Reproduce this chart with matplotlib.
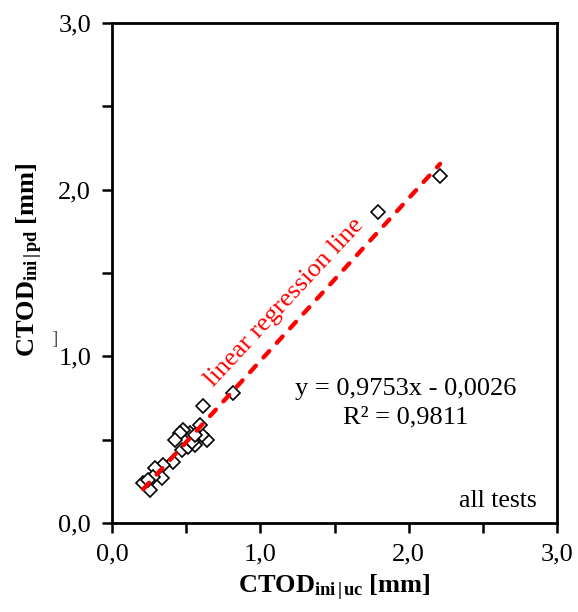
import numpy as np
import matplotlib
matplotlib.use('Agg')
import matplotlib.pyplot as plt
from matplotlib.ticker import MultipleLocator, FixedLocator, FixedFormatter

plt.rcParams['font.family'] = ['Liberation Serif', 'DejaVu Serif']
plt.rcParams['mathtext.fontset'] = 'custom'
plt.rcParams['mathtext.rm'] = 'Liberation Serif'
plt.rcParams['mathtext.it'] = 'Liberation Serif:italic'
plt.rcParams['mathtext.bf'] = 'Liberation Serif:bold'

# CTOD values (mm)
ctod_uc = [2.212, 1.796, 0.818, 0.616, 0.639, 0.605, 0.526, 0.481, 0.459, 0.425,
           0.470, 0.515, 0.560, 0.537, 0.593, 0.560, 0.413, 0.346, 0.290, 0.335,
           0.278, 0.211, 0.256, 0.245]
ctod_pd = [2.082, 1.867, 0.778, 0.702, 0.498, 0.528, 0.538, 0.558, 0.538, 0.498,
           0.438, 0.458, 0.468, 0.488, 0.588, 0.528, 0.368, 0.348, 0.328, 0.268,
           0.278, 0.238, 0.198, 0.258]

# regression from the chart
slope = 0.9753
intercept = -0.0026
r2 = 0.9811

tick_vals = [0, 1, 2, 3]
tick_labels = ['0,0', '1,0', '2,0', '3,0']

fig = plt.figure(figsize=(5.78, 6.12), dpi=100)
ax = fig.add_axes([112/578, 1-523/612, 445/578, 500/612])

ax.plot(ctod_uc, ctod_pd, linestyle='none', marker='D', ms=6.8,
        markerfacecolor='white', markeredgecolor='black', mew=1.2, zorder=2)

xl = np.array([min(ctod_uc), max(ctod_uc)])
ax.plot(xl, slope*xl + intercept, color='#ff0000', lw=3.1, ls=(0, (2, 2.6)),
        dash_capstyle='round', zorder=3)

ax.text(0.68, 0.81, 'linear regression line', color='#ff0000', fontsize=19,
        rotation=47, rotation_mode='anchor', ha='left', va='baseline')

eq = f'y = {slope:.4f}x - {abs(intercept):.4f}'.replace('.', ',')
ax.text(1.98, 0.768, eq, fontsize=19, ha='center', va='baseline')
ax.text(1.98, 0.600, f'R² = {r2:.4f}'.replace('.', ','), fontsize=19,
        ha='center', va='baseline')
ax.text(2.866, 0.096, 'all tests', fontsize=18.5, ha='right', va='baseline')

ax.set_xlim(0, 3)
ax.set_ylim(0, 3)
for a in (ax.xaxis, ax.yaxis):
    a.set_major_locator(FixedLocator(tick_vals))
    a.set_major_formatter(FixedFormatter(tick_labels))
    a.set_minor_locator(MultipleLocator(0.5))
ax.tick_params(which='both', direction='out', length=7, width=1.8,
               labelsize=19, pad=8)

for s in ax.spines.values():
    s.set_linewidth(2)
    s.set_color('black')

ax.set_xlabel(r'$\mathbf{CTOD_{ini\,|\,uc}\ [mm]}$', fontsize=19)
ax.set_ylabel(r'$\mathbf{CTOD_{ini\,|\,pd}\ [mm]}$', fontsize=19)
ax.xaxis.set_label_coords(0.5, -0.1)
ax.yaxis.set_label_coords(-0.15, 0.526)

fig.text(55/578, 1-344/612, ']', fontsize=14, color='#555555', ha='center')

fig.savefig('out.png', dpi=100)
